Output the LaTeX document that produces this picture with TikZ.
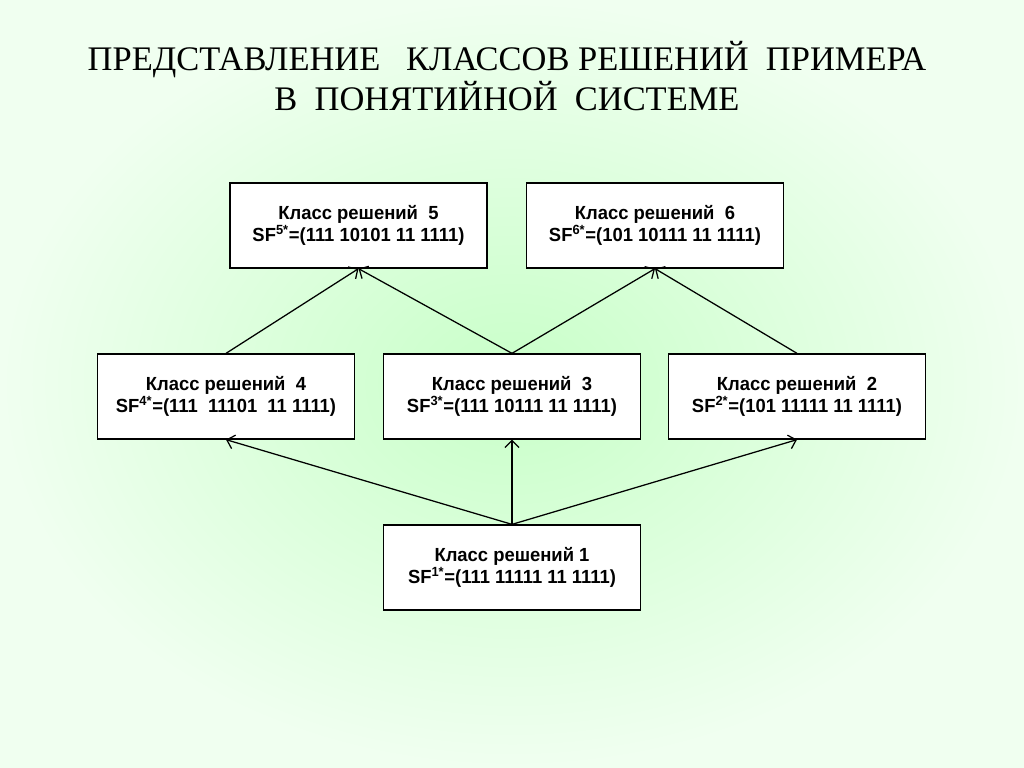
\documentclass[tikz,border=0pt]{standalone}
\usepackage{fontspec}
\setmainfont{Liberation Serif}
\newfontfamily\boxfont[FakeStretch=0.97]{Liberation Sans}
\usepackage{xcolor}
\usepackage{tikz}
\usetikzlibrary{arrows.meta,positioning,calc}

\definecolor{bgin}{RGB}{200,255,200}
\definecolor{bgout}{RGB}{240,255,240}

\begin{document}
\begin{tikzpicture}[
      x=0.025cm, y=-0.025cm,
      >={Straight Barb[length=5pt,width=10pt]},
      classbox/.style = {draw, fill=white, line width=0.9pt, minimum width=6.425cm,
        minimum height=2.125cm, align=center, inner sep=0pt,
        font=\boxfont\bfseries\fontsize{13.5}{16}\selectfont},
      link/.style = {->, line width=0.9pt}
    ]
    \useasboundingbox (0,0) rectangle (1024,768);
    \shade[inner color=bgin, outer color=bgout] (0,0) rectangle (1024,768);

    \node[align=center, font=\fontsize{24.5}{28.5}\selectfont] (title) at (507,76)
      {ПРЕДСТАВЛЕНИЕ~~ КЛАССОВ РЕШЕНИЙ~ ПРИМЕРА\\В~ ПОНЯТИЙНОЙ~ СИСТЕМЕ};

    % top row
    \node[classbox] (c5) at (358.5,225.5) {Класс решений~ 5\\SF\textsuperscript{5*}=(111 10101 11 1111)};
    \node[classbox] (c6) at (655,225.5) {Класс решений~ 6\\SF\textsuperscript{6*}=(101 10111 11 1111)};
    % middle row
    \node[classbox] (c4) at (226,396.5) {Класс решений~ 4\\SF\textsuperscript{4*}=(111~ 11101~ 11 1111)};
    \node[classbox] (c3) at (512,396.5) {Класс решений~ 3\\SF\textsuperscript{3*}=(111 10111 11 1111)};
    \node[classbox] (c2) at (797,396.5) {Класс решений~ 2\\SF\textsuperscript{2*}=(101 11111 11 1111)};
    % bottom
    \node[classbox] (c1) at (512,567.5) {Класс решений 1\\SF\textsuperscript{1*}=(111 11111 11 1111)};

    \draw[link] (c4.north) -- (c5.south);
    \draw[link] (c3.north) -- (c5.south);
    \draw[link] (c3.north) -- (c6.south);
    \draw[link] (c2.north) -- (c6.south);
    \draw[link] (c1.north) -- (c4.south);
    \draw[link] (c1.north) -- (c3.south);
    \draw[link] (c1.north) -- (c2.south);
  \end{tikzpicture}
\end{document}
